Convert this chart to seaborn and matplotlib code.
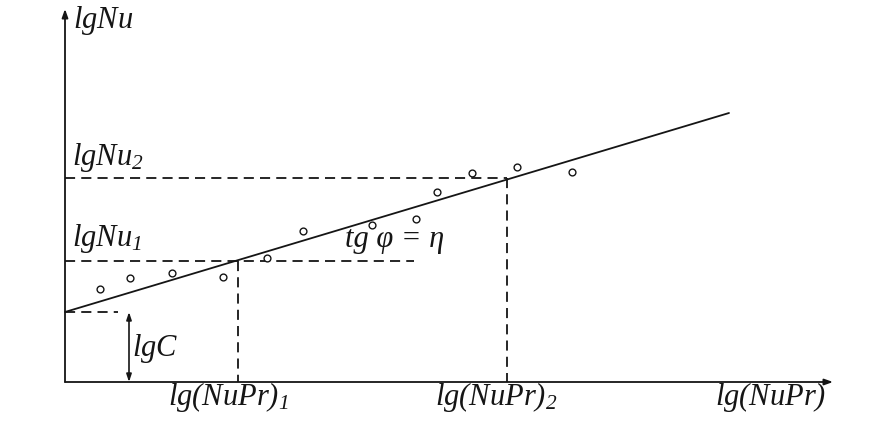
import matplotlib
matplotlib.use("Agg")
import matplotlib.pyplot as plt
import seaborn as sns
import pandas as pd

# ---- data (units: 1 unit = 100 px of the reference, origin at axes crossing) ----
pt_x = [0.35, 0.65, 1.07, 1.58, 2.02, 2.38, 3.07, 3.51, 3.72, 4.07, 4.52, 5.07]
pt_y = [0.93, 1.04, 1.09, 1.05, 1.24, 1.51, 1.57, 1.63, 1.90, 2.09, 2.15, 2.10]
fit_x = [0.0, 6.64]
fit_y = [0.70, 2.69]
lgC = 0.70
x1, lgNu1 = 1.73, 1.21
x2, lgNu2 = 4.42, 2.04
eta_dash_end = 3.49
lgC_dash_end = 0.53
lgC_arrow_x = 0.64

sns.set_style("white")
plt.rcParams["font.family"] = ["Liberation Serif", "DejaVu Serif"]
plt.rcParams["mathtext.fontset"] = "custom"
plt.rcParams["mathtext.it"] = "Liberation Serif:italic"
plt.rcParams["mathtext.rm"] = "Liberation Serif:italic"
plt.rcParams["mathtext.default"] = "it"

fig = plt.figure(figsize=(8.76, 4.23), dpi=100)
ax = fig.add_axes([0, 0, 1, 1])
ax.set_xlim(-0.65, 8.11)
ax.set_ylim(-0.41, 3.82)
ax.axis("off")

ink = "#151515"

# fitted line
sns.lineplot(x=fit_x, y=fit_y, ax=ax, color=ink, lw=1.3, estimator=None, sort=False)
# data points
df = pd.DataFrame({"x": pt_x, "y": pt_y})
sns.scatterplot(data=df, x="x", y="y", ax=ax, s=24, marker="o",
                facecolor="white", edgecolor=ink, linewidth=1.0, zorder=4)

dash = dict(color=ink, lw=1.3, dashes=(5.6, 3.4))
ax.plot([0, x2], [lgNu2, lgNu2], **dash)
ax.plot([x2, x2], [lgNu2, 0], **dash)
ax.plot([0, eta_dash_end], [lgNu1, lgNu1], **dash)
ax.plot([x1, x1], [lgNu1, 0], **dash)
ax.plot([0, lgC_dash_end], [lgC, lgC], **dash)

# axes with arrows
ax.annotate("", xy=(7.68, 0), xytext=(0, 0),
            arrowprops=dict(arrowstyle="-|>,head_length=0.5,head_width=0.18", color=ink, lw=1.3,
                            shrinkA=0, shrinkB=0))
ax.annotate("", xy=(0, 3.73), xytext=(0, 0),
            arrowprops=dict(arrowstyle="-|>,head_length=0.5,head_width=0.18", color=ink, lw=1.3,
                            shrinkA=0, shrinkB=0))
# lgC double arrow
ax.annotate("", xy=(lgC_arrow_x, lgC), xytext=(lgC_arrow_x, 0),
            arrowprops=dict(arrowstyle="<|-|>,head_length=0.45,head_width=0.15", color=ink, lw=1.2,
                            shrinkA=0, shrinkB=0))

fs = 22
tk = dict(color=ink, fontsize=fs, ha="left", va="baseline")
ax.text(0.08, 3.54, r"$lgNu$", **tk)
ax.text(0.07, 2.17, r"$lgNu_2$", **tk)
ax.text(0.07, 1.36, r"$lgNu_1$", **tk)
ax.text(0.67, 0.26, r"$lgC$", **tk)
ax.text(2.80, 1.35, "tg φ = η", color=ink, fontsize=fs, ha="left", va="baseline", style="italic")
ax.text(1.03, -0.23, r"$lg(NuPr)_1$", **tk)
ax.text(3.70, -0.23, r"$lg(NuPr)_2$", **tk)
ax.text(6.50, -0.23, r"$lg(NuPr)$", **tk)

fig.savefig("out.png", dpi=100, facecolor="white")
